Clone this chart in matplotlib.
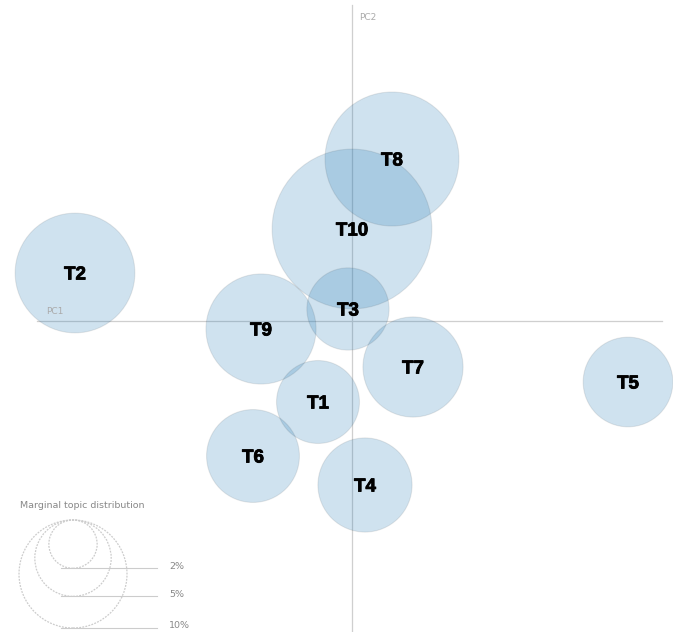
"""
Intertopic distance map (LDAvis style) — 10 topics on PC1/PC2.
"""
import numpy as np
import matplotlib
matplotlib.use("Agg")
import matplotlib.pyplot as plt
import matplotlib.patheffects as pe
from matplotlib.patches import Circle

# ── Data ───────────────────────────────────────────────────────────────────────
topics = ["T1", "T2", "T3", "T4", "T5", "T6", "T7", "T8", "T9", "T10"]
pc1    = [-0.034, -0.277, -0.004, 0.013, 0.276, -0.099, 0.061, 0.040, -0.091, 0.000]
pc2    = [-0.081,  0.048,  0.012, -0.164, -0.061, -0.135, -0.046, 0.162, -0.008, 0.092]
share  = [5.9, 12.3, 5.8, 7.6, 6.9, 7.4, 8.6, 15.4, 10.4, 21.9]   # % of tokens

legend_pcts   = [2, 5, 10]
legend_labels = ["2%", "5%", "10%"]

# ── Style ──────────────────────────────────────────────────────────────────────
FILL       = "#1f77b4"
EDGE       = (0.0, 0.0, 0.0, 0.08)
AXIS_COLOR = "#cfcfcf"
GUIDE      = "#cccccc"
TEXT_GRAY  = "#888888"

R10 = 0.054   # radius of a 10% topic, in axis units


def radius(p):
    return R10 * np.sqrt(p / 10.0)


fig = plt.figure(figsize=(6.73, 6.32), dpi=100)
ax = fig.add_axes([0, 0, 1, 1])
ax.set_xlim(-0.352, 0.321)
ax.set_ylim(-0.311, 0.321)
ax.set_aspect("equal")
ax.axis("off")

# Axes cross
ax.plot([-0.315, 0.310], [0, 0], color=AXIS_COLOR, lw=0.9, zorder=1)
ax.plot([0, 0], [0.316, -0.311], color=AXIS_COLOR, lw=0.9, zorder=1)
ax.text(-0.297, 0.009, "PC1", fontsize=6.5, color="#aaaaaa", ha="center", va="center")
ax.text(0.016, 0.304, "PC2", fontsize=6.5, color="#aaaaaa", ha="center", va="center")

# Topic circles
for name, x, y, p in zip(topics, pc1, pc2, share):
    ax.add_patch(Circle((x, y), radius(p), facecolor=FILL, alpha=0.21,
                        edgecolor="none", zorder=2))
    ax.add_patch(Circle((x, y), radius(p), facecolor="none",
                        edgecolor=EDGE, lw=0.8, zorder=3))
heavy = [pe.withStroke(linewidth=0.6, foreground="black")]
for name, x, y in zip(topics, pc1, pc2):
    ax.text(x, y - 0.002, name, fontsize=13.5, fontweight="bold", color="black",
            family="Liberation Sans", ha="center", va="center", zorder=4,
            path_effects=heavy)

# Marginal topic distribution guide
gx, gtop = -0.279, -0.199
ax.text(-0.332, -0.184, "Marginal topic distribution", fontsize=6.8,
        color=TEXT_GRAY, ha="left", va="center")
for p, lab in zip(legend_pcts, legend_labels):
    r = radius(p)
    ax.add_patch(Circle((gx, gtop - r), r, facecolor="none", edgecolor=GUIDE,
                        lw=0.9, linestyle=(0, (1.5, 1)), zorder=2))
    yb = gtop - 2 * r
    ax.plot([gx - 0.012, -0.195], [yb, yb], color=GUIDE, lw=0.8, zorder=2)
    ax.text(-0.183, yb + 0.002, lab, fontsize=6.8, color=TEXT_GRAY,
            ha="left", va="center")

fig.savefig("out.png", dpi=100, facecolor="white")
